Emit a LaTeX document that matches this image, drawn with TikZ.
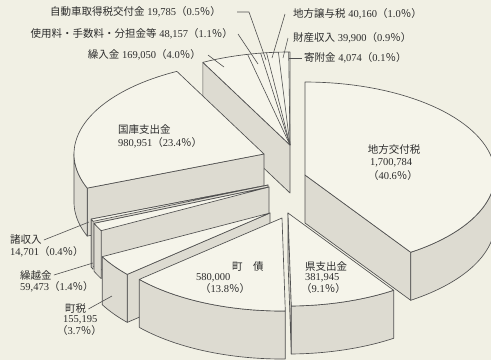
\documentclass[tikz,border=0pt]{standalone}
\usepackage{fontspec}
\setmainfont{Liberation Serif}
\newfontfamily\cjk{Noto Sans CJK JP}
\newcommand\jp[1]{{\cjk #1}}
\definecolor{bg}{RGB}{241,240,228}
\definecolor{topc}{RGB}{245,244,234}
\definecolor{wallc}{RGB}{221,219,209}
\definecolor{linec}{RGB}{80,80,80}
\definecolor{txtc}{RGB}{45,45,45}
\def\RX{190}
\def\RY{93}
\def\HH{48}
\tikzset{
  topf/.style={fill=topc,draw=linec,line width=0.65pt},
  wallf/.style={fill=wallc,draw=linec,line width=0.65pt},
  lbl/.style={anchor=west,inner sep=0pt,text=txtc,font=\fontsize{10.5}{12}\selectfont},
  lead/.style={draw=linec,line width=0.6pt}
}
\newcommand\topface[4]{\filldraw[topf] (#1,#2) -- plot[domain=#3:#4,samples=60] ({#1+\RX*cos(\x)},{#2-\RY*sin(\x)}) -- cycle;}
\newcommand\wallface[4]{\filldraw[wallf] plot[domain=#3:#4,samples=60] ({#1+\RX*cos(\x)},{#2-\RY*sin(\x)}) -- plot[domain=#4:#3,samples=60] ({#1+\RX*cos(\x)},{#2-\RY*sin(\x)+\HH}) -- cycle;}
\newcommand\cutface[3]{\filldraw[wallf] (#1,#2) -- ({#1+\RX*cos(#3)},{#2-\RY*sin(#3)}) -- ({#1+\RX*cos(#3)},{#2-\RY*sin(#3)+\HH}) -- (#1,{#2+\HH}) -- cycle;}
\newcommand\radial[3]{\draw[linec,line width=0.6pt] (#1,#2) -- ({#1+\RX*cos(#3)},{#2-\RY*sin(#3)});}
\begin{document}
\begin{tikzpicture}[x=1pt,y=-1pt,line join=round]
\fill[bg] (0,0) rectangle (491,360);
\useasboundingbox (0,0) rectangle (491,360);
\clip (0,0) rectangle (491,360);
% group of small slices (top)
\cutface{290}{145}{117.3}
\topface{290}{145}{117.3}{90}
\radial{290}{145}{102.9}
\radial{290}{145}{98.9}
\radial{290}{145}{97.1}
\radial{290}{145}{93.5}
\radial{290}{145}{90.4}
% 地方交付税
\cutface{305}{175}{-56.2}
\wallface{305}{175}{-56.2}{0}
\topface{305}{175}{90}{-56.2}
% 国庫支出金
\cutface{264}{154}{201.5}
\wallface{264}{154}{180}{201.5}
\topface{264}{154}{117.3}{201.5}
% 諸収入
\cutface{268}{185}{-158.5}
\wallface{268}{185}{-158.5}{-157}
\topface{268}{185}{-158.5}{-157}
% 繰越金
\cutface{269}{187}{-157}
\wallface{269}{187}{-157}{-152}
\topface{269}{187}{-157}{-152}
% 町税
\cutface{270}{213}{-138.7}
\wallface{270}{213}{-152}{-138.7}
\topface{270}{213}{-152}{-138.7}
% 町債
\wallface{282}{218}{-138.7}{-89}
\topface{282}{218}{-138.7}{-89}
% 県支出金
\cutface{288}{213}{-89}
\wallface{288}{213}{-89}{-56.2}
\topface{288}{213}{-89}{-56.2}
% labels
\node[lbl,anchor=east] (n1) at (221,12) {\jp{自動車取得税交付金}\ 19,785\jp{（}0.5\jp{％）}};
\node[lbl,anchor=east] (n2) at (233,34) {\jp{使用料・手数料・分担金等}\ 48,157\jp{（}1.1\jp{％）}};
\node[lbl,anchor=east] (n3) at (201,55) {\jp{繰入金}\ 169,050\jp{（}4.0\jp{％）}};
\node[lbl] (n4) at (293,14) {\jp{地方譲与税}\ 40,160\jp{（}1.0\jp{％）}};
\node[lbl] (n5) at (293,38) {\jp{財産収入}\ 39,900\jp{（}0.9\jp{％）}};
\node[lbl] (n6) at (304,58) {\jp{寄附金}\ 4,074\jp{（}0.1\jp{％）}};
\coordinate (e1) at (266,60);
\coordinate (e2) at (258,64);
\coordinate (e3) at (224,67);
\coordinate (e4) at (272,58);
\coordinate (e5) at (283,58);
\coordinate (e6) at (289,58);
\draw[lead] ([xshift=16pt]n1.east) -- ++(12,0) -- (e1);
\draw[lead] ([xshift=5pt]n2.east) -- (e2);
\draw[lead] ([xshift=7pt]n3.east) -- (e3);
\draw[lead] ([xshift=-8pt]n4.west) -- (e4);
\draw[lead] ([xshift=-5pt]n5.west) -- (e5);
\draw[lead] ([xshift=-2pt]n6.west) -- (e6);
% 地方交付税
\node[lbl,anchor=center] (k1) at (394,150) {\jp{地方交付税}};
\node[lbl,anchor=center] (k2) at (391,163) {1,700,784};
\node[lbl,anchor=center] (k3) at (393,176) {\jp{（}40.6\jp{％）}};
% 国庫支出金
\node[lbl] (g1) at (118,130) {\jp{国庫支出金}};
\node[lbl] (g2) at (118,143) {980,951\jp{（}23.4\jp{％）}};
% 県支出金
\node[lbl] (p1) at (305,267) {\jp{県支出金}};
\node[lbl] (p2) at (305,278) {381,945};
\node[lbl] (p3) at (301,289) {\jp{（}9.1\jp{％）}};
% 町債
\node[lbl] (b1) at (232,267) {\jp{町　債}};
\node[lbl] (b2) at (196,278) {580,000};
\node[lbl] (b3) at (200,289) {\jp{（}13.8\jp{％）}};
% 町税
\node[lbl] (t1) at (65,309) {\jp{町税}};
\node[lbl] (t2) at (63,320) {155,195};
\node[lbl] (t3) at (57,331) {\jp{（}3.7\jp{％）}};
\coordinate (et) at (112,296);
\draw[lead] ([xshift=2pt]t1.east) -- (et);
% 繰越金
\node[lbl] (c1) at (20,275) {\jp{繰越金}};
\node[lbl] (c2) at (20,287) {59,473\jp{（}1.4\jp{％）}};
\coordinate (ec) at (93,263);
\draw[lead] ([xshift=2pt]c1.east) -- (ec);
% 諸収入
\node[lbl] (s1) at (10,240) {\jp{諸収入}};
\node[lbl] (s2) at (10,252) {14,701\jp{（}0.4\jp{％）}};
\coordinate (es) at (89,222);
\draw[lead] ([xshift=2pt]s1.east) -- (es);
\end{tikzpicture}
\end{document}
